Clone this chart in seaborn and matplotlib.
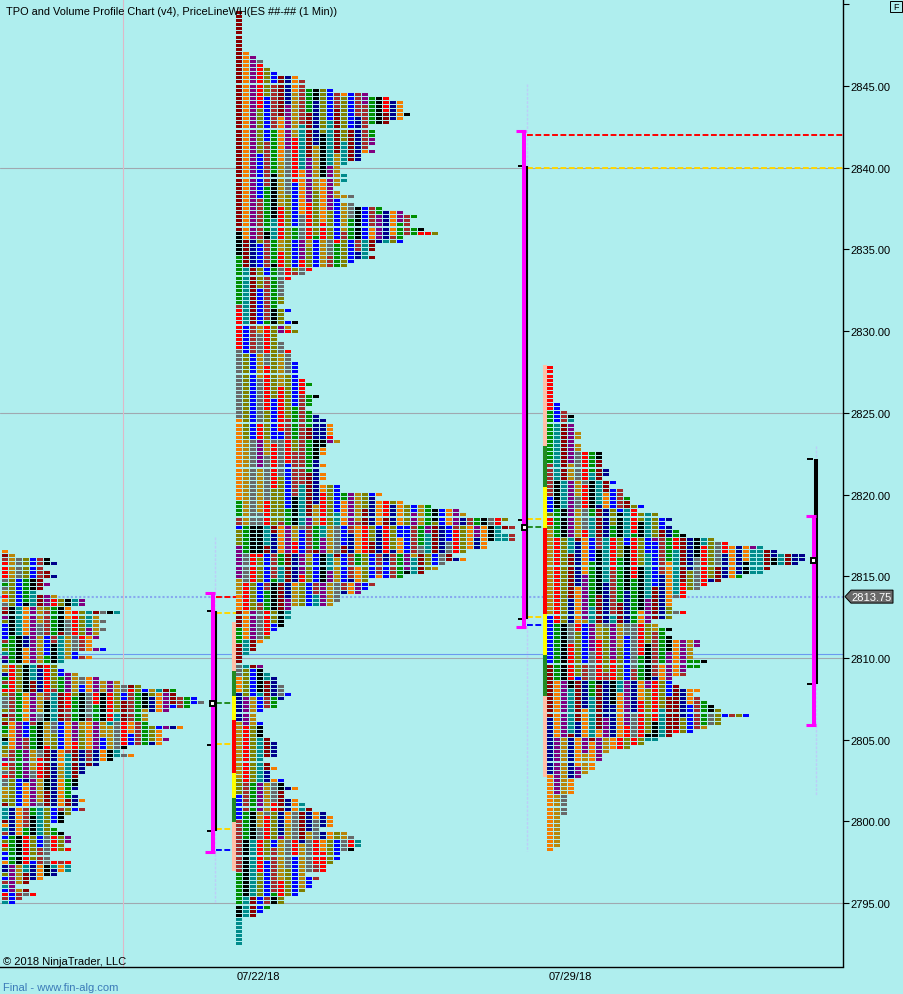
import pandas as pd
import matplotlib.pyplot as plt
from matplotlib.path import Path
from matplotlib.patches import Polygon, Rectangle
import seaborn as sns

# Row widths of each profile, top row to bottom row, one row per 0.25 point
widths_0715 = [1, 2, 7, 8, 6, 7, 8, 6, 7, 6, 5, 8, 12, 12, 10, 17, 14, 15, 14, 15,
               14, 14, 13, 13, 15, 11, 13, 9, 8, 9, 11, 14, 17, 20, 25, 25, 28, 29, 27, 24,
               21, 21, 21, 26, 23, 23, 24, 23, 18, 17, 19, 16, 14, 12, 12, 11, 11, 11, 11, 10,
               11, 12, 11, 12, 10, 9, 9, 7, 8, 9, 10, 10, 9, 10, 7, 7, 10, 10, 10, 8,
               6, 4, 2, 4, 5, 3, 2]
widths_0722 = [1, 1, 1, 1, 1, 1, 1, 1, 1, 1, 2, 3, 4, 4, 5, 6, 9, 10, 10, 14,
               19, 22, 24, 24, 24, 25, 24, 22, 19, 20, 20, 20, 20, 19, 20, 18, 18, 16, 15, 15,
               16, 16, 15, 14, 15, 17, 15, 17, 21, 24, 26, 25, 25, 27, 29, 24, 24, 20, 20, 19,
               20, 17, 16, 11, 10, 8, 7, 7,
               7, 7, 7, 7, 6, 8, 7, 7, 9, 8, 9, 6, 6, 7, 7, 8, 8, 8, 9, 9,
               9, 9, 10, 11, 10, 10, 12, 11, 11, 10, 11, 12, 13, 14, 14, 14, 14, 15, 13, 13,
               13, 12, 12, 13, 12, 13, 13, 12, 15, 15, 21, 20, 24, 28, 32, 33, 39, 38, 40, 38,
               40, 40, 36, 36, 33, 31, 33, 30, 29, 27, 24, 19, 20, 19, 18, 15, 15, 14, 8, 8,
               8, 7, 7, 6, 5, 5,
               4, 3, 3, 2, 1, 1, 4, 4, 5, 6, 6, 7, 7, 8, 7, 6, 6, 4, 3, 3,
               4, 4, 4, 4, 5, 6, 6, 6, 6, 4, 5, 6, 5, 5, 7, 7, 9, 7, 7, 9,
               10, 11, 13, 14, 14, 14, 12, 16, 17, 18, 18, 17, 15, 15, 14, 13, 13, 10, 12, 11,
               11, 10, 9, 7, 7, 5, 4, 3, 1, 1, 1, 1, 1, 1, 1]
widths_0729 = [1, 1, 1, 1, 1, 1, 1, 1, 1, 2, 2, 3, 4, 4, 4, 4, 5, 5, 4,
               5, 5, 8, 8, 8, 8, 9, 9, 8, 10, 9, 11, 11, 12, 12, 14, 13, 16, 18, 17,
               18, 19, 20, 24, 26, 31, 33, 37, 37, 36, 32, 31, 28, 25, 23, 22, 20, 20, 18, 18,
               18, 20, 18,
               15, 16, 18, 17, 18, 22, 22, 21, 21, 21, 23, 22, 20, 20, 18, 18, 19, 22, 21, 22,
               23, 24, 25, 29, 25, 25, 23, 21, 18, 16, 14, 12, 9, 8, 8, 7, 7, 6, 5, 4,
               4, 4, 4, 3, 3, 3, 3, 3, 2, 2, 2, 2, 2, 2, 2, 2, 1]
top_prices = [2816.5, 2849.5, 2827.75]

# First column colours, read down each profile
first_0715 = "OMFRRRRDEDYRODFMPVBBBBFEVTPNYYNEFERVDDDVMVMEEVKTVVYPRYDRDDYYYVMTTTMOTFBVRVBBONNVBFTBRFT"
runs_0722 = [("M", 54), ("K", 6), ("E", 12), ("F", 1), ("R", 10), ("D", 17), ("O", 20), ("E", 4),
             ("F", 2), ("B", 1), ("V", 4), ("P", 8), ("Y", 4), ("O", 4), ("M", 4), ("E", 4),
             ("M", 5), ("D", 3), ("O", 4), ("N", 7), ("Y", 14), ("V", 4), ("B", 6), ("F", 13),
             ("E", 8), ("K", 3), ("T", 7)]
runs_0729 = [("R", 11), ("E", 13), ("F", 8), ("B", 4), ("V", 1), ("R", 2), ("V", 1), ("Y", 21),
             ("B", 12), ("M", 13), ("N", 14), ("O", 19)]

# Order in which the time periods take their colours
period_cycle = "OPYDRVBFEKTMN"
period_colors = {"O": "#F57C00", "P": "#800080", "Y": "#B8860B", "D": "#696969", "R": "#FF0000",
                 "V": "#808000", "B": "#0000FF", "F": "#A52A2A", "E": "#008F00", "K": "#000000",
                 "T": "#008B8B", "M": "#8B0000", "N": "#00008B"}

# Session ranges: outer bar, inner bar, value area strip, POC
bar_x = [213, 524, 814]
range_hi = [2814.0, 2842.25, 2818.7]
range_lo = [2798.1, 2811.9, 2805.9]
inner_x = [216, 527, 816]
inner_hi = [2812.9, 2840.1, 2822.2]
inner_lo = [2799.4, 2812.4, 2808.4]
inner_mid = [2804.65, 2818.45]
poc_x = [212, 524, 813]
poc_price = [2807.25, 2818.0, 2816.0]

strip_0722 = [2812.18, 2809.18, 2807.65, 2806.18, 2802.93, 2801.4, 2799.93, 2796.93]
strip_0729 = [2827.93, 2822.95, 2820.44, 2817.93, 2812.67, 2810.16, 2807.65, 2802.7]

price_ticks = [2795, 2800, 2805, 2810, 2815, 2820, 2825, 2830, 2835, 2840, 2845, 2850]
last_price = 2813.75

BG = "#AFEEEE"
FONT = ["Liberation Sans", "DejaVu Sans"]


def expand(runs):
    return "".join(c * n for c, n in runs)


# One record per TPO cell
origins = [5, 239, 550]
firsts = [first_0715, expand(runs_0722), expand(runs_0729)]
rows = []
for origin, top, widths, first in zip(origins, top_prices, [widths_0715, widths_0722, widths_0729], firsts):
    for i, w in enumerate(widths):
        start = period_cycle.index(first[i])
        base = period_cycle.index(first[i - i % 7])
        for col in range(w):
            # far columns drift to later periods in slower vertical bands
            if col == 0:
                idx = start
            else:
                idx = base + col + (col > 0) + ((i + 3 * col) // 11) * (col // 3)
            rows.append((origin + 7 * col, top - 0.25 * i, period_cycle[idx % 13]))
cells = pd.DataFrame(rows, columns=["x", "price", "period"])

sns.set_theme(style="ticks", rc={"axes.facecolor": BG, "figure.facecolor": BG})
plt.rcParams["font.family"] = FONT

fig = plt.figure(figsize=(9.04, 9.95), dpi=100)
ax = fig.add_axes([0, 27.5 / 995, 843 / 904, 967.5 / 995])

# Level lines go under the profiles
for p in [2840, 2825, 2810, 2795]:
    ax.axhline(p, color="#A0A8B0", lw=0.8, zorder=1)
ax.axhline(2810.25, color="#6A9AF0", lw=0.8, zorder=1)
ax.axhline(last_price, color="#88AAEE", lw=1.5, ls=(0, (1, 1)), zorder=1)
ax.axvline(123, color="#DDB8C8", lw=0.8, zorder=1)

# Faint session markers
faint = dict(color="#BCCEF8", lw=1.0, ls=(0, (2, 1)), zorder=1)
ax.plot([215.5, 215.5], [2817.4, 2795.0], **faint)
ax.plot([527, 527], [2845.1, 2798.2], **faint)
ax.plot([816.5, 816.5], [2823.0, 2801.6], **faint)

# Profiles
rect = Path([(-1, -0.5), (1, -0.5), (1, 0.5), (-1, 0.5), (-1, -0.5)], closed=True)
sns.scatterplot(data=cells, x="x", y="price", hue="period", palette=period_colors, marker=rect,
                s=18.7, linewidth=0, legend=False, ax=ax, zorder=3)
ax.collections[-1].set_snap(True)

# Value area strips
strip_colors = ["#FFC0A8", "#228B22", "#FFFF00", "#FF0000", "#FFFF00", "#228B22", "#FFC0A8"]
for x, levels in zip([234, 545], [strip_0722, strip_0729]):
    for j, c in enumerate(strip_colors):
        ax.vlines(x, levels[j + 1], levels[j], color=c, lw=2.9, zorder=4)

# Dashed value lines between range bars and profiles
dash = dict(lw=1.4, ls=(0, (3, 1.3)), zorder=2)
ax.plot([216, 237], [2813.75, 2813.75], color="#FF0000", **dash)
ax.plot([216, 237], [2812.75, 2812.75], color="#FFD700", **dash)
ax.plot([216, 237], [2807.25, 2807.25], color="#228B22", **dash)
ax.plot([216, 237], [2804.75, 2804.75], color="#FFD700", **dash)
ax.plot([216, 237], [2799.5, 2799.5], color="#FFD700", **dash)
ax.plot([216, 237], [2798.25, 2798.25], color="#0000FF", **dash)
ax.plot([527, 843], [2842.0, 2842.0], color="#FF0000", **dash)
ax.plot([527, 843], [2840.0, 2840.0], color="#FFD700", **dash)
ax.plot([527, 546], [2818.5, 2818.5], color="#FFD700", **dash)
ax.plot([527, 546], [2818.0, 2818.0], color="#228B22", **dash)
ax.plot([527, 546], [2812.5, 2812.5], color="#FFD700", **dash)
ax.plot([527, 546], [2812.0, 2812.0], color="#0000FF", **dash)

# Range bars, black under magenta
for x, hi, lo in zip(inner_x, inner_hi, inner_lo):
    ax.vlines(x, lo, hi, color="black", lw=2.9 if x == 816 else 1.5, zorder=5)
    ax.hlines([hi, lo], x - 9, x - 3, color="black", lw=1.4, zorder=5)
for x, mid in zip(inner_x, inner_mid):
    ax.hlines(mid, x - 9, x - 3, color="black", lw=1.4, zorder=5)
for x, hi, lo in zip(bar_x, range_hi, range_lo):
    ax.vlines(x, lo, hi, color="#FF00FF", lw=2.9, zorder=6)
    ax.hlines([hi, lo], x - 8, x + 2, color="#FF00FF", lw=2.2, zorder=6)
for x, p in zip(poc_x, poc_price):
    ax.plot(x, p, marker="s", ms=3.6, mfc="white", mec="black", mew=1.4, zorder=7)

ax.set_xlim(0, 843)
ax.set_ylim(2791.11, 2850.33)
ax.set_xlabel("")
ax.set_ylabel("")

ax.yaxis.tick_right()
ax.set_yticks(price_ticks)
ax.set_yticklabels([f"{p:.2f}" for p in price_ticks[:-1]] + [""])
ax.set_xticks([258, 570])
ax.set_xticklabels(["07/22/18", "07/29/18"])
ax.tick_params(axis="y", length=4.3, width=0.8, labelsize=8, pad=1, colors="black")
ax.tick_params(axis="x", length=0, labelsize=8, pad=3, colors="black")
for side in ["left", "top"]:
    ax.spines[side].set_visible(False)
for side in ["right", "bottom"]:
    ax.spines[side].set_color("black")
    ax.spines[side].set_linewidth(1.0)

# Chart texts
fig.text(6 / 904, 1 - 12 / 995, "TPO and Volume Profile Chart (v4), PriceLineWH(ES ##-## (1 Min))",
         fontsize=7.93, va="center", ha="left", color="black", zorder=10)
fig.text(3 / 904, 1 - 962 / 995, "\u00a9 2018 NinjaTrader, LLC", fontsize=8, va="center", ha="left", color="black")
fig.text(3 / 904, 1 - 988 / 995, "Final - www.fin-alg.com", fontsize=8, va="center", ha="left", color="#3A7AB8")

# Last price flag on the scale
flag_y = ax.transData.transform((0, last_price))[1] / fig.bbox.height
flag = [(845, flag_y), (851, flag_y + 6.5 / 995), (893, flag_y + 6.5 / 995),
        (893, flag_y - 6.5 / 995), (851, flag_y - 6.5 / 995)]
fig.add_artist(Polygon([(x / 904, y) for x, y in flag], closed=True, transform=fig.transFigure,
                       facecolor="#696969", edgecolor="black", lw=0.7))
fig.text(872 / 904, flag_y, f"{last_price:.2f}", fontsize=8, color="white", va="center", ha="center")

# F button in the corner
fig.add_artist(Rectangle((890 / 904, 1 - 13 / 995), 12 / 904, 11 / 995, transform=fig.transFigure,
                         facecolor=BG, edgecolor="black", lw=0.7))
fig.text(896 / 904, 1 - 7.5 / 995, "F", fontsize=6.5, va="center", ha="center", color="black")

fig.savefig("out.png", dpi=100)
